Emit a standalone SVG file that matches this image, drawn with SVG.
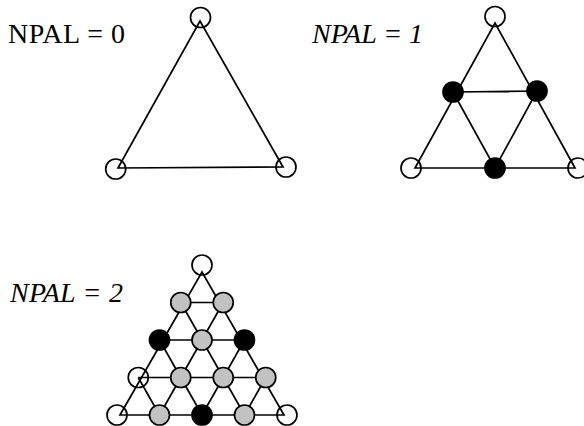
<svg xmlns="http://www.w3.org/2000/svg" width="584" height="426" viewBox="0 0 584 426">
<style>
.lbl{font-family:"Liberation Serif","Times New Roman",serif;font-size:28px;fill:#000}
.it{font-style:italic}
.edge{stroke:#000;stroke-width:1.7;fill:none;stroke-linejoin:miter}
.w{fill:none;stroke:#000;stroke-width:1.7}
.b{fill:#000;stroke:#000;stroke-width:1.7}
.g{fill:#c2c2c2;stroke:#000;stroke-width:1.7}
</style>
<rect width="584" height="426" fill="#fff"/>
<g id="labels">
<text class="lbl" x="8" y="43" textLength="117" lengthAdjust="spacing">NPAL = 0</text>
<text class="lbl it" x="312" y="43" textLength="111" lengthAdjust="spacing">NPAL = 1</text>
<text class="lbl it" x="10" y="302" textLength="113" lengthAdjust="spacing">NPAL = 2</text>
</g>
<g id="connectors">
<polygon class="edge" points="118,168 200,21 283,167"/>
<polygon class="edge" points="415,168 495,23 575,168"/>
<polygon class="edge" points="453,92 537,91 495,168"/>
<polygon class="edge" points="120,415 202,272 284,415"/>
<line class="edge" x1="180.75" y1="302.5" x2="223.25" y2="302.5"/>
<line class="edge" x1="159.5" y1="340" x2="244.5" y2="340"/>
<line class="edge" x1="138.25" y1="377.5" x2="265.75" y2="377.5"/>
<line class="edge" x1="159.5" y1="415" x2="223.25" y2="302.5"/>
<line class="edge" x1="202" y1="415" x2="244.5" y2="340"/>
<line class="edge" x1="244.5" y1="415" x2="265.75" y2="377.5"/>
<line class="edge" x1="244.5" y1="415" x2="180.75" y2="302.5"/>
<line class="edge" x1="202" y1="415" x2="159.5" y2="340"/>
<line class="edge" x1="159.5" y1="415" x2="138.25" y2="377.5"/>
</g>
<g id="npal0-nodes">
<g id="n0-top"><circle class="w" cx="200.5" cy="17.5" r="10"/></g>
<g id="n0-left"><circle class="w" cx="115.7" cy="169" r="10"/></g>
<g id="n0-right"><circle class="w" cx="286" cy="167" r="10"/></g>
</g>
<g id="npal1-nodes">
<g id="n1-top"><circle class="w" cx="495" cy="16.5" r="10"/></g>
<g id="n1-left"><circle class="w" cx="411" cy="168" r="10"/></g>
<g id="n1-right"><circle class="w" cx="578" cy="168" r="10"/></g>
<g id="n1-midleft"><circle class="b" cx="453" cy="92" r="10"/></g>
<g id="n1-midright"><circle class="b" cx="537" cy="91" r="10"/></g>
<g id="n1-midbottom"><circle class="b" cx="495" cy="168" r="10"/></g>
</g>
<g id="npal2-nodes">
<g id="n2-r0c0"><circle class="w" cx="202" cy="265" r="10"/></g>
<g id="n2-r1c0"><circle class="g" cx="180.75" cy="302.5" r="10"/></g>
<g id="n2-r1c1"><circle class="g" cx="223.25" cy="302.5" r="10"/></g>
<g id="n2-r2c0"><circle class="b" cx="159.5" cy="340" r="10"/></g>
<g id="n2-r2c1"><circle class="g" cx="202" cy="340" r="10"/></g>
<g id="n2-r2c2"><circle class="b" cx="244.5" cy="340" r="10"/></g>
<g id="n2-r3c0"><circle class="w" cx="138.25" cy="377.5" r="10"/></g>
<g id="n2-r3c1"><circle class="g" cx="180.75" cy="377.5" r="10"/></g>
<g id="n2-r3c2"><circle class="g" cx="223.25" cy="377.5" r="10"/></g>
<g id="n2-r3c3"><circle class="g" cx="265.75" cy="377.5" r="10"/></g>
<g id="n2-r4c0"><circle class="w" cx="117" cy="415" r="10"/></g>
<g id="n2-r4c1"><circle class="g" cx="159.5" cy="415" r="10"/></g>
<g id="n2-r4c2"><circle class="b" cx="202" cy="415" r="10"/></g>
<g id="n2-r4c3"><circle class="g" cx="244.5" cy="415" r="10"/></g>
<g id="n2-r4c4"><circle class="w" cx="287" cy="415" r="10"/></g>
</g>
</svg>
